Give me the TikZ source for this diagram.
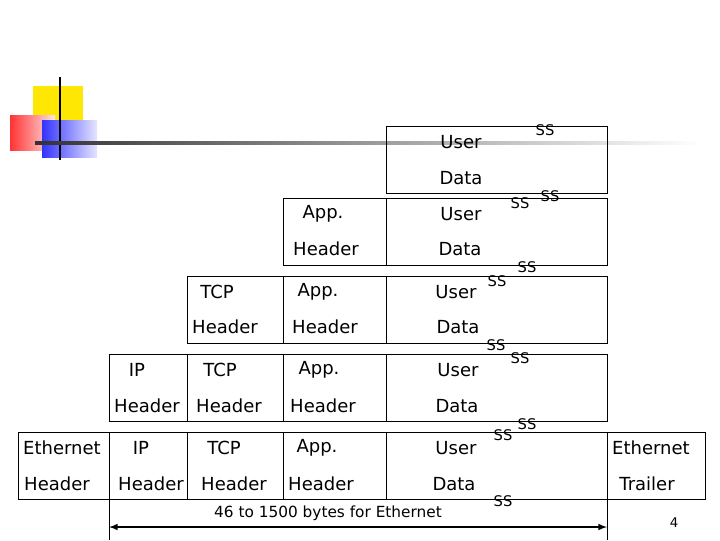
\documentclass[tikz,border=0pt]{standalone}
\usepackage{fontspec}
\setmainfont{DejaVu Sans}
\begin{document}
\begin{tikzpicture}[x=0.75pt,y=-0.75pt,
  box/.style={draw=black,line width=0.6pt},
  t/.style={font=\fontsize{13.5}{15}\selectfont,inner sep=0pt},
  ss/.style={font=\fontsize{11}{12}\selectfont,inner sep=0pt}]
\useasboundingbox (0,0) rectangle (720,540);
% logo
\fill[yellow!90!orange] (33,86) rectangle (83,122);
\shade[left color=red!80,right color=red!10] (10,115) rectangle (55,150);
\shade[left color=blue!80,right color=blue!10] (42,120) rectangle (97,157);
\draw[line width=2pt] (60,77) -- (60,160);
\shade[left color=black!80,right color=white] (35,141) rectangle (700,144);
% boxes
\draw[box] (386,126) rectangle (607,193);
\draw[box] (283,198) rectangle (607,265);
\draw[box] (386,198) -- (386,265);
\draw[box] (187,276) rectangle (607,343);
\foreach \x in {283,386} \draw[box] (\x,276) -- (\x,343);
\draw[box] (109,354) rectangle (607,421);
\foreach \x in {187,283,386} \draw[box] (\x,354) -- (\x,421);
\draw[box] (18,432) rectangle (705,499);
\foreach \x in {109,187,283,386,607} \draw[box] (\x,432) -- (\x,499);
% texts
\node[t] at (461,142) {User}; \node[t] at (461,178) {Data};
\node[t] at (323,214) {App.}; \node[t] at (326,249) {Header};
\node[t] at (461,214) {User}; \node[t] at (460,249) {Data};
\node[t] at (217,292) {TCP}; \node[t] at (225,327) {Header};
\node[t] at (318,292) {App.}; \node[t] at (325,327) {Header};
\node[t] at (456,292) {User}; \node[t] at (458,327) {Data};
\node[t] at (137,370) {IP}; \node[t] at (147,406) {Header};
\node[t] at (220,370) {TCP}; \node[t] at (229,406) {Header};
\node[t] at (319,370) {App.}; \node[t] at (323,406) {Header};
\node[t] at (458,370) {User}; \node[t] at (457,406) {Data};
\node[t] at (62,448) {Ethernet}; \node[t] at (57,484) {Header};
\node[t] at (141,448) {IP}; \node[t] at (151,484) {Header};
\node[t] at (224,448) {TCP}; \node[t] at (234,484) {Header};
\node[t] at (317,448) {App.}; \node[t] at (321,484) {Header};
\node[t] at (456,448) {User}; \node[t] at (454,484) {Data};
\node[t] at (651,448) {Ethernet}; \node[t] at (647,484) {Trailer};
% ss
\foreach \p in {(545,130),(520,203),(550,196),(497,281),(527,267),(496,345),(520,358),(503,435),(527,424),(503,501)}
  \node[ss] at \p {SS};
% span arrow
\node[font=\fontsize{11.5}{13}\selectfont] at (328,513) {46 to 1500 bytes for Ethernet};
\draw[line width=0.6pt] (109,499) -- (109,540);
\draw[line width=0.6pt] (607,499) -- (607,540);
\draw[line width=1.2pt,<->,>=latex] (109,527) -- (607,527);
\node[font=\fontsize{10}{12}\selectfont] at (674,523) {4};
\end{tikzpicture}
\end{document}
